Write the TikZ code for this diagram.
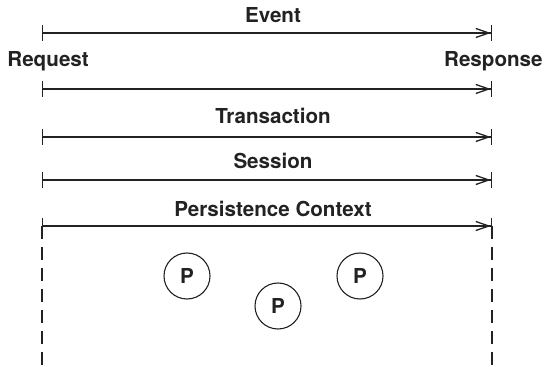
\documentclass[tikz,border=0pt]{standalone}
\usepackage{fontspec}
\setmainfont{TeX Gyre Heros}
\usetikzlibrary{positioning, arrows.meta}
\definecolor{ink}{RGB}{34,34,34}

\begin{document}
\begin{tikzpicture}[x=0.5pt, y=-0.5pt,
    span/.style={draw=ink, line width=0.75pt,
                 {Bar[width=8pt, line width=0.6pt]}-{Straight Barb[length=6.5pt, width=4.5pt, line width=0.65pt]Bar[width=8pt, line width=0.6pt]}},
    lab/.style={font=\bfseries\fontsize{10.3}{12}\selectfont, text=ink, inner sep=0pt},
    pc/.style={circle, draw=ink, line width=0.55pt, minimum size=23pt, inner sep=0pt,
               font=\bfseries\fontsize{10.3}{12}\selectfont, text=ink},
    life/.style={draw=ink, line width=0.75pt, dash pattern=on 6.5pt off 4pt}
  ]
  \useasboundingbox (0,0) rectangle (544,367);

  % --- scopes, from request to response ---
  \foreach \nm/\y in {ev/33, rq/89, tx/137, ss/180, pc/226} {
      \coordinate (\nm L) at (42,\y);
      \coordinate (\nm R) at (492,\y);
      \draw[span] (\nm L) -- (\nm R);
  }
  \foreach \nm/\y/\lab in {ev/15/Event, tx/116/Transaction, ss/161/Session, pc/209/Persistence Context} {
      \node[lab] (\nm T) at (273,\y) {\lab};
  }
  \node[lab, anchor=west] (req) at (7,61) {Request};
  \node[lab, anchor=east] (resp) at (543,61) {Response};

  % persistence context boundary
  \coordinate (pcLb) at (42,367);
  \coordinate (pcRb) at (492,367);
  \draw[life] (pcL) -- (pcLb);
  \draw[life] (pcR) -- (pcRb);

  % --- managed entities ---
  \node[pc] (p1) at (187,276) {P};
  \node[pc] (p2) at (278,306) {P};
  \node[pc] (p3) at (360,276) {P};
\end{tikzpicture}
\end{document}
